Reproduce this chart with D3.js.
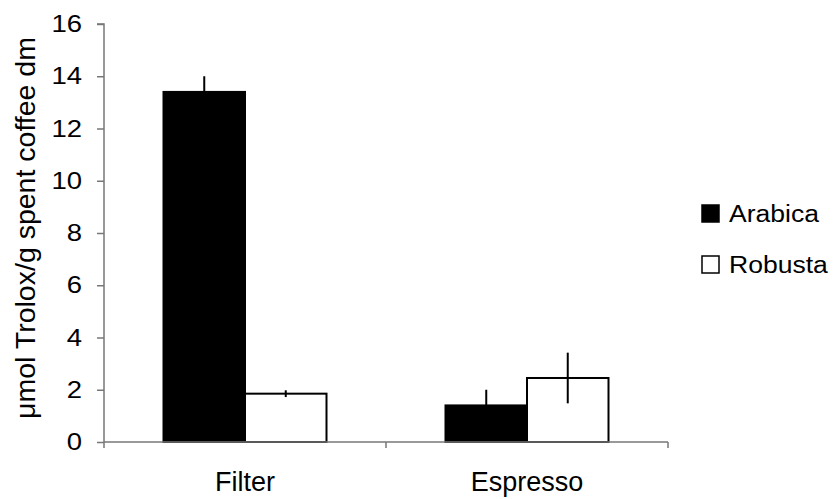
<!DOCTYPE html>
<html><head><meta charset="utf-8">
<script src="https://cdn.jsdelivr.net/npm/d3@7"></script>
<style>body{margin:0;background:#fff}svg{display:block}text{font-family:"Liberation Sans",Arial,sans-serif}</style>
</head><body><svg id="c" width="834" height="499"></svg>
<script>
const categories = ["Filter", "Espresso"];
const seriesNames = ["Arabica", "Robusta"];
const arabica = [13.4, 1.4];
const robusta = [1.85, 2.45];
const arabicaErr = [0.6, 0.6];
const robustaErr = [0.13, 0.97];
const yTicks = [0, 2, 4, 6, 8, 10, 12, 14, 16];
const fills = ["#000000", "#ffffff"];

const svg = d3.select("#c");
const m = {left: 104, right: 166, top: 24, bottom: 57};
const W = 834, H = 499;
const x0 = d3.scaleBand().domain(categories).range([m.left, W - m.right]).paddingInner(0).paddingOuter(0);
const x1 = d3.scaleBand().domain(seriesNames).range([0, 163]);
const y = d3.scaleLinear().domain([0, 16]).range([H - m.bottom, m.top]);

const rows = categories.map((c, i) => [
  {cat: c, s: "Arabica", v: arabica[i], e: arabicaErr[i], f: fills[0]},
  {cat: c, s: "Robusta", v: robusta[i], e: robustaErr[i], f: fills[1]}
]).flat();
const groupOffset = (x0.bandwidth() - 163) / 2;

// bars
svg.append("g").selectAll("rect").data(rows).join("rect")
  .attr("x", d => x0(d.cat) + groupOffset + x1(d.s))
  .attr("y", d => y(d.v))
  .attr("width", x1.bandwidth())
  .attr("height", d => y(0) - y(d.v))
  .attr("fill", d => d.f)
  .attr("stroke", "#000").attr("stroke-width", 2);

// error bars
svg.append("g").selectAll("line").data(rows).join("line")
  .attr("x1", d => x0(d.cat) + groupOffset + x1(d.s) + x1.bandwidth() / 2)
  .attr("x2", d => x0(d.cat) + groupOffset + x1(d.s) + x1.bandwidth() / 2)
  .attr("y1", d => y(d.v + d.e))
  .attr("y2", d => y(d.v - d.e))
  .attr("stroke", "#000").attr("stroke-width", 2);

// y axis
const sx = 1.17;
const ya = svg.append("g").attr("transform", `translate(${m.left},0)`)
  .call(d3.axisLeft(y).tickValues(yTicks).tickSize(7).tickPadding(14).tickFormat(d3.format("d")));
ya.select(".domain").attr("stroke", "#777").attr("stroke-width", 1.5).attr("d", `M-7,${y(16)}H0V${y(0)}`);
ya.selectAll(".tick line").attr("stroke", "#777").attr("stroke-width", 1.5);
ya.selectAll(".tick text").attr("font-size", 23.5).attr("fill", "#000")
  .attr("font-family", "Liberation Sans, Arial, sans-serif")
  .attr("x", -22 / sx).attr("transform", `scale(${sx},1)`);

// x axis
const xa = svg.append("g").attr("transform", `translate(0,${y(0)})`);
xa.append("line").attr("x1", m.left).attr("x2", W - m.right).attr("stroke", "#777").attr("stroke-width", 1.5);
const bounds = [m.left, ...categories.map(c => x0(c) + x0.bandwidth())];
xa.selectAll("line.tk").data(bounds).join("line").attr("class", "tk")
  .attr("x1", d => d).attr("x2", d => d).attr("y1", 0).attr("y2", 6)
  .attr("stroke", "#777").attr("stroke-width", 1.5);
xa.selectAll("text").data(categories).join("text")
  .attr("x", d => x0(d) + x0.bandwidth() / 2)
  .attr("y", 49).attr("text-anchor", "middle").attr("font-size", 27).text(d => d);

// y title
svg.append("text").attr("transform", `translate(35,228) rotate(-90)`)
  .attr("text-anchor", "middle").attr("font-size", 28.5).text("μmol Trolox/g spent coffee dm");

// legend
const ls = 1.13;
const lg = svg.append("g").attr("transform", "translate(702,0)");
seriesNames.forEach((s, i) => {
  const cy = 213 + i * 51;
  lg.append("rect").attr("x", 0).attr("y", cy - 8).attr("width", 17).attr("height", 17)
    .attr("fill", fills[i]).attr("stroke", "#000").attr("stroke-width", 1.5);
  lg.append("text").attr("transform", `translate(27,${cy + 9}) scale(${ls},1)`)
    .attr("font-size", 23.5).text(s);
});
</script></body></html>
